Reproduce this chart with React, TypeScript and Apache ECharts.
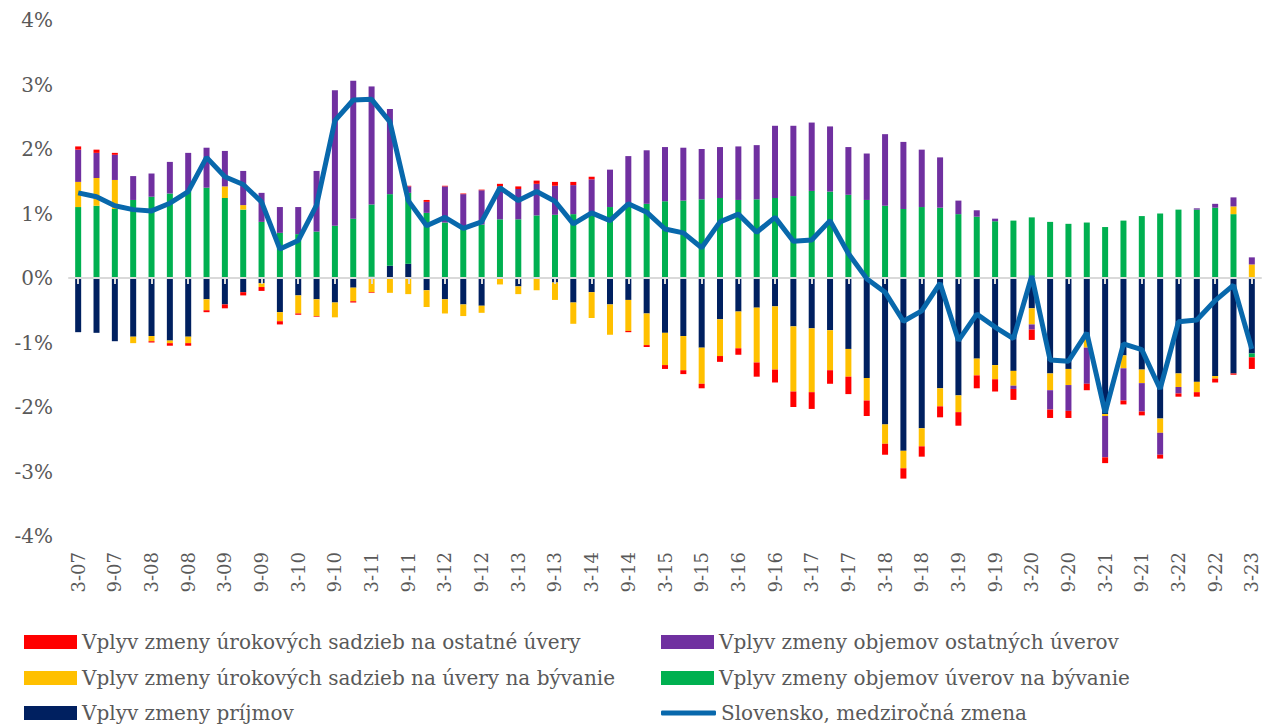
import React, { useEffect, useRef } from "react";
import * as echarts from "echarts";

const years = ["07","08","09","10","11","12","13","14","15","16","17","18","19","20","21","22","23"];
const months = ["3","6","9","12"];
const categories: string[] = [];
years.forEach((y, yi) => {
  months.forEach((m) => {
    if (yi === years.length - 1 && m !== "3") return;
    categories.push(`${m}-${y}`);
  });
});

const income = [-0.84,-0.85,-0.98,-0.91,-0.90,-0.97,-0.91,-0.33,-0.41,-0.22,-0.08,-0.53,-0.27,-0.33,-0.38,-0.15,0.02,0.19,0.22,-0.19,-0.33,-0.41,-0.43,0,-0.13,0,-0.07,-0.38,-0.22,-0.41,-0.34,-0.55,-0.85,-0.90,-1.08,-0.64,-0.52,-0.46,-0.44,-0.75,-0.78,-0.81,-1.10,-1.55,-2.27,-2.68,-2.33,-1.71,-1.82,-1.25,-1.35,-1.44,-0.47,-1.48,-1.41,-0.94,-2.11,-1.20,-1.42,-2.18,-1.48,-1.61,-1.52,-1.48,-1.17];
const housingVolume = [1.10,1.12,1.07,1.21,1.26,1.31,1.35,1.40,1.24,1.06,0.87,0.70,0.68,0.72,0.81,0.92,1.12,1.11,1.10,1.01,0.86,0.76,0.83,0.91,0.91,0.97,0.98,0.99,0.97,1.10,1.12,1.15,1.19,1.20,1.22,1.24,1.21,1.22,1.24,1.27,1.35,1.34,1.29,1.21,1.12,1.07,1.10,1.09,0.99,0.95,0.88,0.89,0.94,0.87,0.84,0.86,0.79,0.89,0.96,1.00,1.06,1.06,1.09,0.99,-0.06];
const housingRates = [0.39,0.43,0.45,-0.10,-0.08,-0.04,-0.10,-0.17,0.18,0.07,-0.06,-0.14,-0.28,-0.26,-0.23,-0.21,-0.22,-0.23,-0.25,-0.26,-0.22,-0.18,-0.11,-0.10,-0.12,-0.19,-0.27,-0.33,-0.40,-0.47,-0.48,-0.49,-0.50,-0.53,-0.56,-0.57,-0.57,-0.85,-0.98,-1.01,-0.99,-0.62,-0.43,-0.35,-0.30,-0.27,-0.28,-0.28,-0.26,-0.26,-0.22,-0.23,-0.25,-0.26,-0.25,-0.14,-0.03,-0.20,-0.21,-0.22,-0.21,-0.16,-0.04,0.12,0.21];
const otherVolume = [0.50,0.39,0.39,0.37,0.36,0.49,0.59,0.62,0.55,0.53,0.45,0.40,0.42,0.94,2.10,2.14,1.83,1.32,0.10,0.17,0.56,0.54,0.53,0.51,0.47,0.49,0.45,0.45,0.56,0.58,0.77,0.83,0.84,0.82,0.78,0.79,0.83,0.84,1.12,1.09,1.06,1.01,0.74,0.72,1.11,1.04,0.89,0.78,0.21,0.10,0.04,-0.05,-0.08,-0.30,-0.40,-0.56,-0.64,-0.50,-0.44,-0.34,-0.10,0.02,0.06,0.14,0.11];
const otherRates = [0.05,0.05,0.03,0,-0.02,-0.04,-0.04,-0.03,-0.06,-0.05,-0.06,-0.05,-0.02,-0.01,0,-0.02,-0.01,0,0.01,0.03,0.01,0.01,0.01,0.04,0.04,0.05,0.06,0.05,0.04,0,-0.02,-0.03,-0.06,-0.06,-0.07,-0.09,-0.10,-0.22,-0.20,-0.24,-0.26,-0.21,-0.27,-0.24,-0.17,-0.16,-0.16,-0.17,-0.21,-0.20,-0.19,-0.17,-0.16,-0.13,-0.11,-0.10,-0.09,-0.06,-0.06,-0.06,-0.05,-0.07,-0.06,-0.02,-0.18];
const slovakia = [1.32,1.26,1.12,1.06,1.04,1.16,1.34,1.87,1.57,1.45,1.18,0.45,0.58,1.13,2.44,2.76,2.77,2.42,1.20,0.81,0.94,0.77,0.87,1.40,1.20,1.34,1.19,0.84,1.01,0.89,1.15,1.02,0.76,0.70,0.47,0.87,0.99,0.71,0.94,0.57,0.59,0.89,0.38,-0.01,-0.22,-0.67,-0.51,-0.08,-0.97,-0.56,-0.76,-0.94,0.03,-1.27,-1.29,-0.85,-2.09,-1.02,-1.11,-1.72,-0.68,-0.65,-0.35,-0.11,-1.10];

const names = {
  otherRates: "Vplyv zmeny úrokových sadzieb na ostatné úvery",
  otherVolume: "Vplyv zmeny objemov ostatných úverov",
  housingRates: "Vplyv zmeny úrokových sadzieb na úvery na bývanie",
  housingVolume: "Vplyv zmeny objemov úverov na bývanie",
  income: "Vplyv zmeny príjmov",
  line: "Slovensko, medziročná zmena",
};

const FONT = "DejaVu Serif";
const TXT = "#595959";
const LINE_COLOR = "#0868AC";

export default function App() {
  const ref = useRef<HTMLDivElement>(null);
  useEffect(() => {
    if (!ref.current) return;
    const chart = echarts.init(ref.current, undefined, { renderer: "svg" });
    const bar = (name: string, data: number[], color: string) => ({
      name,
      type: "bar",
      stack: "total",
      data,
      barWidth: 6,
      itemStyle: { color },
      xAxisIndex: 0,
    });
    const leg = (name: string, left: number, top: number, extra: any = {}) => ({
      orient: "horizontal",
      left,
      top,
      itemWidth: 53,
      itemHeight: 14,
      itemGap: 5,
      icon: "rect",
      textStyle: { fontFamily: FONT, fontSize: 20, color: TXT },
      selectedMode: false,
      data: [name],
      ...extra,
    });
    chart.setOption({
      animation: false,
      textStyle: { fontFamily: FONT },
      grid: { left: 69, right: 4, top: 20, bottom: 188 },
      legend: [
        leg(names.otherRates, 19, 627),
        leg(names.housingRates, 19, 663),
        leg(names.income, 19, 698),
        leg(names.otherVolume, 656, 627),
        leg(names.housingVolume, 656, 663),
        leg(names.line, 656, 698, { icon: "roundRect", itemHeight: 5, itemWidth: 55 }),
      ],
      xAxis: [
        {
          type: "category",
          data: categories,
          z: 3,
          axisLine: { onZero: true, lineStyle: { color: "#D9D9D9", width: 2 } },
          axisTick: { show: true, interval: 1, alignWithLabel: true, length: 6, lineStyle: { color: "#D9D9D9", width: 2 } },
          axisLabel: { show: false },
        },
        {
          type: "category",
          data: categories,
          position: "bottom",
          axisLine: { show: false, onZero: false },
          axisTick: { show: false },
          axisLabel: { interval: 1, rotate: 90, margin: 16, fontSize: 18, color: TXT, fontFamily: FONT },
        },
      ],
      yAxis: {
        type: "value",
        min: -4,
        max: 4,
        interval: 1,
        splitLine: { show: false },
        axisLine: { show: false },
        axisTick: { show: false },
        axisLabel: { formatter: (v: number) => `${v}%`, fontSize: 20, color: TXT, fontFamily: FONT, margin: 16 },
      },
      series: [
        bar(names.income, income, "#002060"),
        bar(names.housingVolume, housingVolume, "#00B050"),
        bar(names.housingRates, housingRates, "#FFC000"),
        bar(names.otherVolume, otherVolume, "#7030A0"),
        bar(names.otherRates, otherRates, "#FF0000"),
        {
          name: names.line,
          type: "line",
          data: slovakia,
          symbol: "none",
          xAxisIndex: 0,
          z: 5,
          lineStyle: { color: LINE_COLOR, width: 5 },
          itemStyle: { color: LINE_COLOR },
        },
      ],
    });
    return () => chart.dispose();
  }, []);
  return <div ref={ref} style={{ position: "absolute", left: 0, top: 0, width: 1265, height: 724 }} />;
}
